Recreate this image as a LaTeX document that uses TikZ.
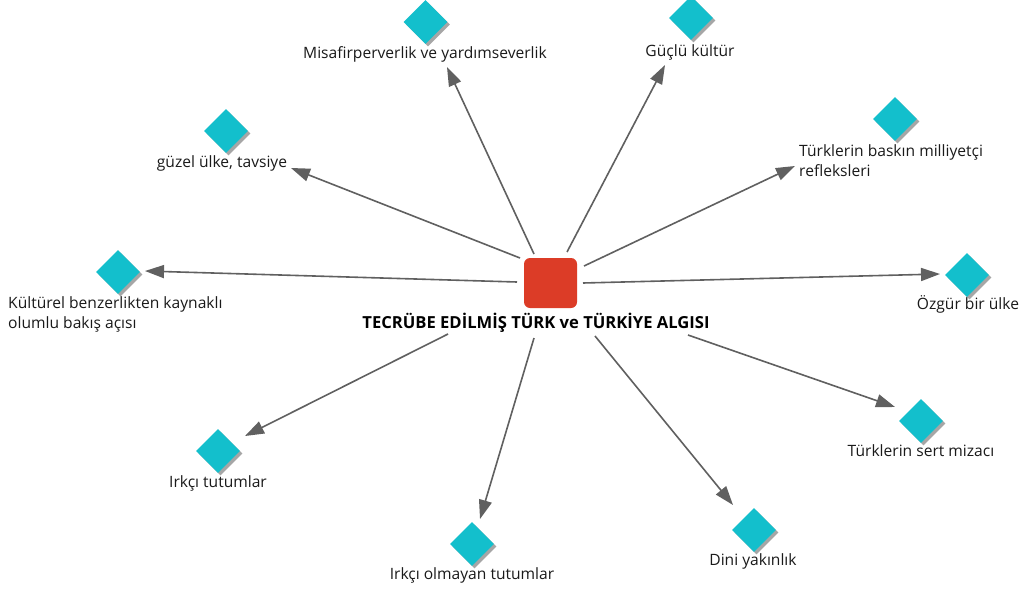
\documentclass[tikz,border=0pt]{standalone}
\usepackage{fontspec}
\setmainfont{Open Sans}
\usetikzlibrary{shapes.geometric,shadows,arrows.meta}
\definecolor{tealA}{HTML}{13BFCC}
\definecolor{redA}{HTML}{DC3C27}
\definecolor{arrA}{HTML}{606060}
\definecolor{txtA}{HTML}{1A1A1A}
\begin{document}
\begin{tikzpicture}[x=1pt,y=-1pt,
  dia/.style={diamond, aspect=1, minimum width=44pt, minimum height=44pt, inner sep=0pt, fill=tealA,
    copy shadow={shadow xshift=2.5pt, shadow yshift=-2.5pt, fill=black!35, draw=none}},
  lbl/.style={font=\fontsize{15.6}{20}\selectfont, inner sep=0pt, text=txtA, anchor=base},
  lblL/.style={font=\fontsize{15.6}{20}\selectfont, inner sep=0pt, text=txtA, anchor=base west, align=left},
  conn/.style={draw=arrA, line width=1.6pt, -{Triangle[length=19pt,width=13pt]}}
]
\useasboundingbox (0,0) rectangle (1027,589);
\fill[white] (0,0) rectangle (1027,589);

% centre
\node[fill=redA, rounded corners=6pt, minimum width=53pt, minimum height=50pt, inner sep=0pt] (core) at (550.5,283) {};
\node[font=\bfseries\fontsize{16.6}{20}\selectfont, text=black, anchor=base, inner sep=0pt] (title) at (536,328) {TECRÜBE EDİLMİŞ TÜRK ve TÜRKİYE ALGISI};

% diamonds
\node[dia] (d1) at (425.5,22) {};
\node[dia] (d2) at (691,18) {};
\node[dia] (d3) at (226,131) {};
\node[dia] (d4) at (895,119) {};
\node[dia] (d5) at (118,272) {};
\node[dia] (d6) at (967,275) {};
\node[dia] (d7) at (921,421) {};
\node[dia] (d8) at (754,530) {};
\node[dia] (d9) at (472,544) {};
\node[dia] (d10) at (218,451) {};

% labels
\node[lbl] (t1) at (425,58) {Misafirperverlik ve yardımseverlik};
\node[lbl] (t2) at (690,56) {Güçlü kültür};
\node[lbl] (t3) at (222,167) {güzel ülke, tavsiye};
\node[lblL] (t4) at (799,176) {Türklerin baskın milliyetçi\\refleksleri};
\node[lblL] (t5) at (8,328) {Kültürel benzerlikten kaynaklı\\olumlu bakış açısı};
\node[lbl] (t6) at (968,309) {Özgür bir ülke};
\node[lbl] (t7) at (921,456) {Türklerin sert mizacı};
\node[lbl] (t8) at (753,565) {Dini yakınlık};
\node[lbl] (t9) at (472,579) {Irkçı olmayan tutumlar};
\node[lbl] (t10) at (218,487) {Irkçı tutumlar};

% connector ends
\coordinate (s1) at (534,254);  \coordinate (e1) at (447,67);
\coordinate (s2) at (567,252);  \coordinate (e2) at (665,65);
\coordinate (s3) at (520,258);  \coordinate (e3) at (291,168);
\coordinate (s4) at (584,266);  \coordinate (e4) at (795,166);
\coordinate (s5) at (517,282);  \coordinate (e5) at (145,271);
\coordinate (s6) at (583,283);  \coordinate (e6) at (940,274);
\coordinate (s7) at (688,335);  \coordinate (e7) at (895,407);
\coordinate (s8) at (595,336);  \coordinate (e8) at (733,505);
\coordinate (s9) at (534,338);  \coordinate (e9) at (480,519);
\coordinate (s10) at (448,334); \coordinate (e10) at (245,436);

\foreach \i in {1,...,10} {\draw[conn] (s\i) -- (e\i);}
\end{tikzpicture}
\end{document}
